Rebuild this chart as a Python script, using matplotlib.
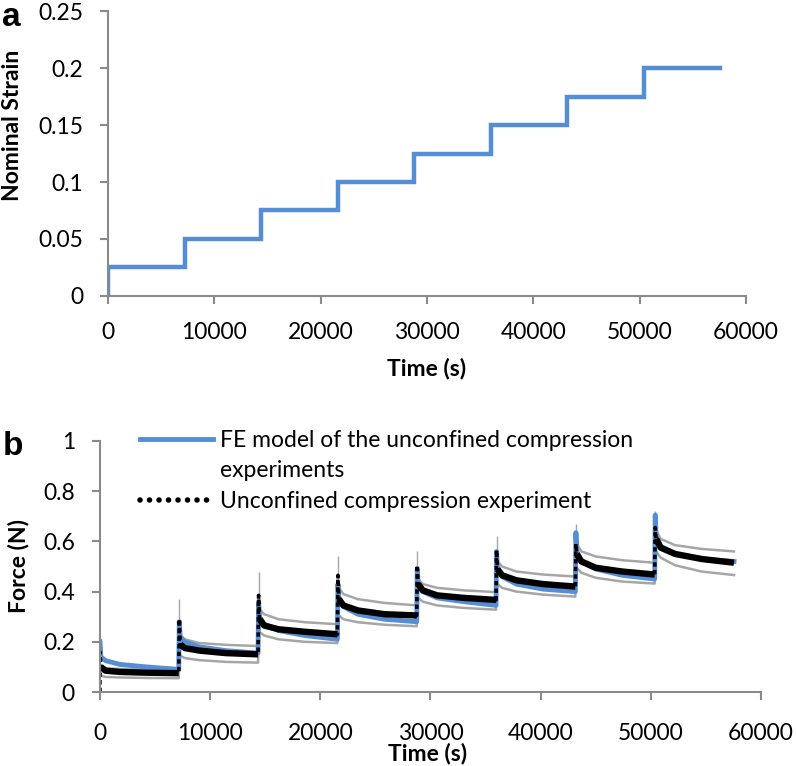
import matplotlib
matplotlib.use('Agg')
import matplotlib.pyplot as plt
from matplotlib.lines import Line2D

plt.rcParams['font.family'] = ['Lato', 'DejaVu Sans']

# ---- panel a: applied strain steps
step_times = [0, 7200, 14400, 21600, 28800, 36000, 43200, 50400]
strain_levels = [0.025, 0.05, 0.075, 0.1, 0.125, 0.15, 0.175, 0.2]
end_time = 57600

# ---- panel b: force relaxation, read per step at these offsets (s) after each step
offsets = [0, 80, 500, 1800, 4200, 7150]

fe_model = [
    [0.20, 0.14, 0.125, 0.11, 0.10, 0.09],
    [0.28, 0.22, 0.20, 0.18, 0.165, 0.155],
    [0.36, 0.30, 0.27, 0.245, 0.225, 0.21],
    [0.43, 0.37, 0.34, 0.31, 0.29, 0.28],
    [0.49, 0.43, 0.40, 0.375, 0.36, 0.345],
    [0.56, 0.49, 0.46, 0.43, 0.41, 0.40],
    [0.635, 0.56, 0.52, 0.49, 0.465, 0.45],
    [0.705, 0.62, 0.58, 0.55, 0.53, 0.52],
]
experiment = [
    [0.16, 0.10, 0.085, 0.08, 0.077, 0.075],
    [0.29, 0.19, 0.175, 0.165, 0.155, 0.15],
    [0.385, 0.29, 0.265, 0.25, 0.24, 0.23],
    [0.465, 0.37, 0.345, 0.325, 0.31, 0.305],
    [0.505, 0.43, 0.405, 0.385, 0.375, 0.367],
    [0.565, 0.49, 0.465, 0.445, 0.43, 0.42],
    [0.59, 0.55, 0.52, 0.495, 0.48, 0.468],
    [0.655, 0.61, 0.575, 0.55, 0.53, 0.515],
]
exp_upper = [
    [0.11, 0.10, 0.095, 0.092, 0.09, 0.088],
    [0.23, 0.225, 0.21, 0.195, 0.188, 0.183],
    [0.34, 0.33, 0.31, 0.29, 0.278, 0.27],
    [0.42, 0.415, 0.39, 0.37, 0.355, 0.345],
    [0.46, 0.45, 0.43, 0.415, 0.405, 0.398],
    [0.53, 0.52, 0.50, 0.48, 0.468, 0.46],
    [0.60, 0.59, 0.56, 0.54, 0.525, 0.515],
    [0.655, 0.645, 0.61, 0.585, 0.57, 0.56],
]
exp_lower = [
    [0.07, 0.065, 0.06, 0.058, 0.056, 0.055],
    [0.16, 0.145, 0.135, 0.127, 0.12, 0.117],
    [0.25, 0.24, 0.225, 0.21, 0.20, 0.195],
    [0.32, 0.305, 0.29, 0.278, 0.268, 0.262],
    [0.39, 0.375, 0.36, 0.345, 0.335, 0.328],
    [0.445, 0.43, 0.415, 0.40, 0.388, 0.38],
    [0.51, 0.495, 0.475, 0.455, 0.44, 0.432],
    [0.575, 0.56, 0.535, 0.505, 0.48, 0.466],
]
spike_tops = [0.2, 0.37, 0.48, 0.54, 0.56, 0.62, 0.67, 0.72]

BLUE = '#558ED5'
GRAY = '#A6A6A6'
AXGRAY = '#8A8A8A'
FS = 16.5


def style_axes(ax, xpad):
    for s in ['top', 'right']:
        ax.spines[s].set_visible(False)
    for s in ['left', 'bottom']:
        ax.spines[s].set_color(AXGRAY)
        ax.spines[s].set_linewidth(1.5)
    ax.tick_params(axis='both', colors=AXGRAY, width=1.5, length=6, labelcolor='black', labelsize=FS)
    ax.tick_params(axis='y', pad=12)
    ax.tick_params(axis='x', pad=xpad)


def flatten(values):
    t, y = [], []
    for start, vals in zip(step_times, values):
        t += [start + o for o in offsets]
        y += vals
    return t, y


fig = plt.figure(figsize=(7.96, 7.66), dpi=100)

# panel a
ax1 = fig.add_axes([0.1357, 0.6136, 0.8015, 0.372])
ax1.step([0] + step_times + [end_time], [0] + strain_levels + [strain_levels[-1]],
         where='post', color=BLUE, lw=3.2, solid_joinstyle='miter')
ax1.set_xlim(0, 60000)
ax1.set_ylim(0, 0.25)
ax1.set_xticks(range(0, 60001, 10000))
ax1.set_yticks([0, 0.05, 0.1, 0.15, 0.2, 0.25])
ax1.set_yticklabels(['0', '0.05', '0.1', '0.15', '0.2', '0.25'])
style_axes(ax1, 13)
ax1.set_xlabel('Time (s)', fontsize=FS, fontweight='bold')
ax1.set_ylabel('Nominal Strain', fontsize=FS, fontweight='bold')
ax1.xaxis.set_label_coords(0.5, -0.215)
ax1.yaxis.set_label_coords(-0.133, 0.6)
fig.text(0.002, 0.966, 'a', fontsize=24, fontweight='bold', va='baseline',
         family=['Liberation Sans', 'DejaVu Sans'])

# panel b
ax2 = fig.add_axes([0.1256, 0.0966, 0.8304, 0.3277])
t_up, y_up = flatten(exp_upper)
t_lo, y_lo = flatten(exp_lower)
ax2.plot(t_up, y_up, color=GRAY, lw=1.8)
ax2.plot(t_lo, y_lo, color=GRAY, lw=1.8)
for start, top, low in zip(step_times, spike_tops, exp_lower):
    ax2.vlines(start, low[0], top, color=GRAY, lw=1.0)

t_fe, y_fe = flatten(fe_model)
ax2.plot(t_fe, y_fe, color=BLUE, lw=3.5)

t_ex, y_ex = flatten(experiment)
ax2.plot([0] + t_ex, [0] + y_ex, color='black', lw=2.6, ls=(0, (1.2, 0.9)))
for start, vals in zip(step_times, experiment):
    ax2.plot([start + o for o in offsets[1:]], vals[1:], color='black', lw=4.6,
             solid_capstyle='butt')

ax2.set_xlim(0, 60000)
ax2.set_ylim(0, 1)
ax2.set_xticks(range(0, 60001, 10000))
ax2.set_yticks([0, 0.2, 0.4, 0.6, 0.8, 1])
ax2.set_yticklabels(['0', '0.2', '0.4', '0.6', '0.8', '1'])
style_axes(ax2, 16)
ax2.set_xlabel('Time (s)', fontsize=FS, fontweight='bold')
ax2.set_ylabel('Force (N)', fontsize=FS, fontweight='bold')
ax2.xaxis.set_label_coords(0.495, -0.203)
ax2.yaxis.set_label_coords(-0.107, 0.5)
fig.text(0.004, 0.406, 'b', fontsize=24, fontweight='bold', va='baseline',
         family=['Liberation Sans', 'DejaVu Sans'])

# legend: FE label wraps onto a second row, handle stays on the first row
handles = [
    Line2D([], [], color=BLUE, lw=3.5),
    Line2D([], [], color='none'),
    Line2D([], [], color='black', lw=4, ls=(0, (0.01, 1.7)), dash_capstyle='round'),
]
labels = ['FE model of the unconfined compression',
          'experiments',
          'Unconfined compression experiment']
ax2.legend(handles, labels, loc='upper left', bbox_to_anchor=(0.06, 1.045), frameon=False,
           fontsize=FS, handlelength=3.2, handletextpad=0.3, labelspacing=0.42,
           borderaxespad=0, borderpad=0)

fig.savefig('out.png', dpi=100)
